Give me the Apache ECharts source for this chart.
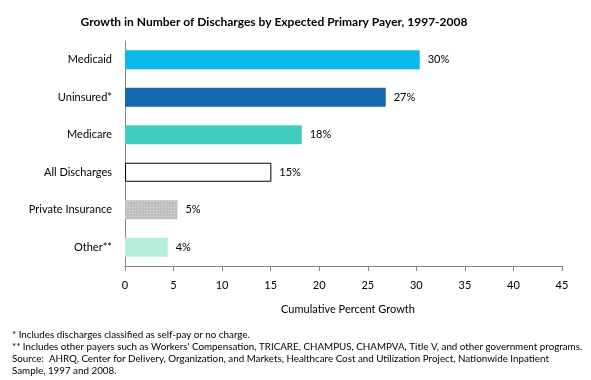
<!DOCTYPE html>
<html>
<head>
<meta charset="utf-8">
<script src="https://cdn.jsdelivr.net/npm/echarts@6/dist/echarts.min.js"></script>
<style>html,body{margin:0;padding:0;background:#fff;}#c{width:591px;height:380px;}</style>
</head>
<body>
<div id="c"></div>
<script>
const categories = ['Medicaid', 'Uninsured*', 'Medicare', 'All Discharges', 'Private Insurance', 'Other**'];
const values = [30.35, 26.85, 18.2, 15.07, 5.4, 4.4];
const barColors = ['#0BB9E9', '#1569B1', '#40CDBF', '#FFFFFF', '#BFBFBF', '#B3EFDA'];
const xTicks = { min: 0, max: 45, interval: 5 };
const titleText = 'Growth in Number of Discharges by Expected Primary Payer, 1997-2008';
const axisName = 'Cumulative Percent Growth';
const footnotes = [
  '* Includes discharges classified as self-pay or no charge.',
  '** Includes other payers such as Workers\' Compensation, TRICARE, CHAMPUS, CHAMPVA, Title V, and other government programs.',
  'Source:  AHRQ, Center for Delivery, Organization, and Markets, Healthcare Cost and Utilization Project, Nationwide Inpatient',
  'Sample, 1997 and 2008.'
];

const FONT = 'Lato';
const chart = echarts.init(document.getElementById('c'), null, { renderer: 'canvas' });

const titles = [{
  text: titleText, left: 269, top: 11, textAlign: 'center',
  textStyle: { fontFamily: FONT, fontSize: 12, fontWeight: 'bold', color: '#000' }
}, {
  text: axisName, left: 343, top: 299, textAlign: 'center',
  textStyle: { fontFamily: FONT, fontSize: 11, fontWeight: 'normal', color: '#000' }
}];
footnotes.forEach((t, i) => {
  titles.push({
    text: t, left: 7, top: 325 + i * 11.8,
    textStyle: { fontFamily: FONT, fontSize: 9.8, fontWeight: 'normal', color: '#000' }
  });
});

chart.setOption({
  animation: false,
  title: titles,
  grid: { left: 125, right: 29, top: 41, bottom: 114, containLabel: false },
  xAxis: {
    type: 'value', min: xTicks.min, max: xTicks.max, interval: xTicks.interval,
    axisLine: { show: true, lineStyle: { color: '#868686', width: 1 } },
    axisTick: { show: true, length: 5, lineStyle: { color: '#868686' } },
    axisLabel: { margin: 14, fontFamily: FONT, fontSize: 11, color: '#000' },
    splitLine: { show: false }
  },
  yAxis: {
    type: 'category', data: categories, inverse: true,
    axisLine: { show: true, lineStyle: { color: '#868686', width: 1 } },
    axisTick: { show: false },
    axisLabel: { margin: 13, fontFamily: FONT, fontSize: 11, color: '#000' }
  },
  series: [{
    type: 'bar',
    barWidth: 19,
    data: values.map((v, i) => ({
      value: v,
      itemStyle: {
        color: barColors[i],
        borderColor: i === 3 ? '#000' : barColors[i],
        borderWidth: i === 3 ? 1 : 0,
        decal: i === 4 ? {
          symbol: 'rect', symbolSize: 1, color: 'rgba(230,230,230,0.8)',
          dashArrayX: [1, 2], dashArrayY: [1, 2], rotation: 0
        } : null
      }
    })),
    label: {
      show: true, position: 'right', distance: 8,
      fontFamily: FONT, fontSize: 11, color: '#000',
      formatter: p => Math.round(p.value) + '%'
    }
  }]
});
</script>
</body>
</html>
